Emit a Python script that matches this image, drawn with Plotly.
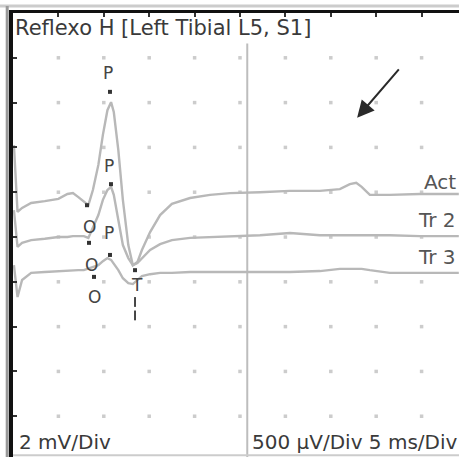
import plotly.graph_objects as go

# time axis (ms), 5 ms/div
time_ms = [0.1, 0.5, 1.0, 2.0, 3.5, 5.0, 6.0, 6.6, 7.2, 7.8, 8.3, 8.8, 9.4, 9.9, 10.4, 10.8,
           11.1, 11.6, 12.1, 12.7, 13.2, 13.7, 14.2, 15.1, 16.2, 17.5, 19.5, 21.7, 23.9, 27.2,
           30.5, 33.8, 36.0, 37.1, 37.8, 38.4, 39.3, 41.5, 44.8, 49.1]

# trace values in display divisions (0 = top of screen)
act = [-2.95, -4.44, -4.35, -4.24, -4.20, -4.15, -4.04, -4.02, -4.11, -4.22, -4.29, -3.95, -3.39,
       -2.72, -2.17, -1.99, -2.21, -3.06, -4.17, -5.18, -5.63, -5.56, -5.29, -4.89, -4.51, -4.26,
       -4.13, -4.06, -4.02, -4.00, -3.97, -3.97, -3.93, -3.82, -3.79, -3.88, -4.06, -4.06, -4.04, -4.04]
tr2 = [-4.40, -5.22, -5.13, -5.07, -5.04, -5.00, -5.00, -4.98, -4.98, -4.98, -5.02, -4.80, -4.51,
       -4.17, -3.95, -3.88, -4.06, -4.62, -5.18, -5.47, -5.63, -5.58, -5.47, -5.29, -5.16, -5.07,
       -5.02, -5.00, -4.98, -4.96, -4.91, -4.96, -4.96, -4.96, -4.96, -4.96, -4.96, -4.96, -4.98, -4.98]
tr3 = [-5.63, -6.34, -5.96, -5.80, -5.78, -5.76, -5.76, -5.74, -5.74, -5.74, -5.71, -5.67, -5.63,
       -5.54, -5.47, -5.51, -5.60, -5.74, -5.92, -6.03, -6.05, -5.96, -5.87, -5.83, -5.80, -5.80,
       -5.78, -5.78, -5.78, -5.78, -5.78, -5.76, -5.71, -5.71, -5.71, -5.71, -5.74, -5.80, -5.80, -5.80]

trace_names = ["Act", "Tr 2", "Tr 3"]

# marker cursors (ms, div)
marker_t = [10.68, 10.79, 10.68, 8.15, 8.37, 8.92, 13.44]
marker_y = [-1.76, -3.82, -5.40, -4.29, -5.13, -5.89, -5.74]
marker_names = ["P", "P", "P", "O", "O", "O", "T"]
label_t = [10.46, 10.57, 10.57, 8.37, 8.70, 9.03, 13.66]
label_y = [-1.34, -3.42, -4.91, -4.78, -5.63, -6.34, -6.07]
tdash_t = [13.44, 13.44]
tdash_y = [-6.45, -6.75]

cursor_ms = 25.8
x_max = 49.12
y_min = -9.91
grid_x = [5 * i for i in range(1, 10)]
grid_y = [-j for j in range(1, 10)]

FONT = "DejaVu Sans"

fig = go.Figure()

# grid dots
gx, gy = [], []
for xv in grid_x:
    for yv in grid_y:
        gx.append(xv)
        gy.append(yv)
fig.add_trace(go.Scatter(x=gx, y=gy, mode="markers",
                         marker=dict(symbol="square", size=3.5, color="#cccccc"),
                         hoverinfo="skip", showlegend=False))

# cursor line
fig.add_trace(go.Scatter(x=[cursor_ms, cursor_ms], y=[-0.68, y_min], mode="lines",
                         line=dict(color="#bdbdbd", width=2), hoverinfo="skip", showlegend=False))

for vals, nm in zip([act, tr2, tr3], trace_names):
    fig.add_trace(go.Scatter(x=time_ms, y=vals, mode="lines", name=nm,
                             line=dict(color="#b8b8b8", width=2.4), showlegend=False))

fig.add_trace(go.Scatter(x=marker_t, y=marker_y, mode="markers",
                         marker=dict(symbol="square", size=4, color="#333333"),
                         showlegend=False))
fig.add_trace(go.Scatter(x=tdash_t, y=tdash_y, mode="markers",
                         marker=dict(symbol="line-ns", size=7,
                                     line=dict(color="#444444", width=2)),
                         showlegend=False))

annotations = []
for t, y, s in zip(label_t, label_y, marker_names):
    annotations.append(dict(x=t, y=y, xref="x", yref="y", text=s, showarrow=False,
                            font=dict(family=FONT, size=17, color="#444444")))

# trace labels at right edge
trace_label_y = [-3.77, -4.62, -5.45]
for y, s in zip(trace_label_y, trace_names):
    annotations.append(dict(x=1.0, y=y, xref="paper", yref="y", text=s, showarrow=False,
                            xanchor="right", xshift=-1,
                            font=dict(family=FONT, size=20, color="#555555")))

annotations += [
    dict(x=0.0, y=1.0, xref="paper", yref="paper", yshift=-1, text="Reflexo H [Left Tibial L5, S1]",
         showarrow=False, xanchor="left", yanchor="top",
         font=dict(family=FONT, size=21, color="#3a3a3a")),
    dict(x=0.008, y=0.0, xref="paper", yref="paper", yshift=1, text="2 mV/Div",
         showarrow=False, xanchor="left", yanchor="bottom",
         font=dict(family=FONT, size=20, color="#3a3a3a")),
    dict(x=cursor_ms, y=0.0, xref="x", yref="paper", xshift=3, yshift=1,
         text="500 µV/Div 5 ms/Div",
         showarrow=False, xanchor="left", yanchor="bottom",
         font=dict(family=FONT, size=20, color="#3a3a3a")),
    dict(x=37.9, y=-2.34, xref="x", yref="y", text="", showarrow=True,
         ax=43, ay=-50, arrowhead=2, arrowsize=1.7, arrowwidth=2, arrowcolor="#2a2a2a"),
]

fig.update_layout(
    width=459, height=457,
    margin=dict(l=13, r=0, t=13, b=0),
    paper_bgcolor="white", plot_bgcolor="white",
    annotations=annotations,
    xaxis=dict(range=[0, x_max], side="top", showgrid=False, zeroline=False,
               showline=True, linecolor="#111111", linewidth=3,
               tickvals=grid_x, ticks="inside", ticklen=4, tickwidth=2, tickcolor="#333333",
               showticklabels=False, fixedrange=True),
    yaxis=dict(range=[y_min, 0], showgrid=False, zeroline=False,
               showline=True, linecolor="#111111", linewidth=4,
               tickvals=grid_y, ticks="inside", ticklen=4, tickwidth=2, tickcolor="#333333",
               showticklabels=False, fixedrange=True),
    shapes=[
        dict(type="line", xref="paper", yref="paper", x0=-0.03, x1=1.0, y0=1.016, y1=1.016,
             line=dict(color="#cccccc", width=3)),
        dict(type="line", xref="paper", yref="paper", x0=-0.013, x1=-0.013, y0=0, y1=1.016,
             line=dict(color="#999999", width=3)),
        dict(type="line", xref="paper", yref="paper", x0=0, x1=1, y0=0.004, y1=0.004,
             line=dict(color="#cccccc", width=2)),
    ],
)

fig.write_html("out.html")
